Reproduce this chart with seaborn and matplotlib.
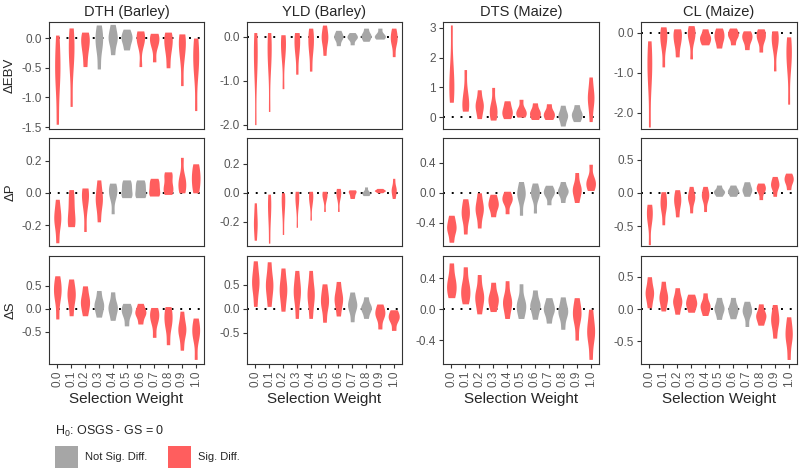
import matplotlib
matplotlib.use("Agg")
import matplotlib.pyplot as plt
from matplotlib.patches import Rectangle
import pandas as pd
import seaborn as sns

weights = ["0.0", "0.1", "0.2", "0.3", "0.4", "0.5", "0.6", "0.7", "0.8", "0.9", "1.0"]
traits = ["DTH (Barley)", "YLD (Barley)", "DTS (Maize)", "CL (Maize)"]
responses = ["ΔEBV", "ΔP", "ΔS"]

# significance per selection weight (1 = Sig. Diff., 0 = Not Sig. Diff.)
dth_ebv_sig = [1, 1, 1, 0, 0, 0, 1, 1, 1, 1, 1]
yld_ebv_sig = [1, 1, 1, 1, 1, 1, 0, 0, 0, 0, 1]
dts_ebv_sig = [1, 1, 1, 1, 1, 1, 1, 1, 0, 0, 1]
cl_ebv_sig = [1, 1, 1, 1, 1, 1, 1, 1, 1, 1, 1]
dth_p_sig = [1, 1, 1, 1, 0, 0, 0, 1, 1, 1, 1]
yld_p_sig = [1, 1, 1, 1, 1, 1, 1, 1, 0, 1, 1]
dts_p_sig = [1, 1, 1, 1, 1, 0, 0, 0, 0, 1, 1]
cl_p_sig = [1, 1, 1, 1, 1, 0, 0, 0, 1, 1, 1]
dth_s_sig = [1, 1, 1, 0, 0, 0, 1, 1, 1, 1, 1]
yld_s_sig = [1, 1, 1, 1, 1, 1, 1, 0, 0, 1, 1]
dts_s_sig = [1, 1, 1, 1, 1, 0, 0, 0, 0, 1, 1]
cl_s_sig = [1, 1, 1, 1, 1, 0, 0, 0, 1, 1, 1]

# replicate values per selection weight
dth_ebv = [
    [-1.45, -0.8, -0.55, -0.3, 0.05], [-1.15, -0.5, -0.25, -0.05, 0.17],
    [-0.48, -0.25, -0.1, 0.0, 0.1], [-0.52, -0.2, -0.05, 0.05, 0.22],
    [-0.28, -0.08, 0.0, 0.08, 0.23], [-0.2, -0.08, 0.0, 0.05, 0.15],
    [-0.48, -0.12, -0.02, 0.05, 0.12], [-0.4, -0.15, -0.05, 0.02, 0.08],
    [-0.5, -0.25, -0.1, 0.0, 0.1], [-0.8, -0.35, -0.15, -0.02, 0.07],
    [-1.22, -0.6, -0.4, -0.2, 0.0]]
yld_ebv = [
    [-2.0, -0.9, -0.5, -0.2, 0.1], [-1.7, -0.7, -0.4, -0.1, 0.1],
    [-1.18, -0.5, -0.25, -0.05, 0.05], [-0.85, -0.4, -0.2, -0.02, 0.1],
    [-0.78, -0.35, -0.15, 0.02, 0.2], [-0.42, -0.15, -0.02, 0.08, 0.27],
    [-0.2, -0.05, 0.0, 0.05, 0.15], [-0.18, -0.05, 0.0, 0.02, 0.1],
    [-0.1, -0.02, 0.03, 0.08, 0.2], [-0.05, 0.0, 0.02, 0.08, 0.2],
    [-0.45, -0.15, -0.05, 0.05, 0.2]]
dts_ebv = [
    [0.5, 0.9, 1.2, 1.8, 3.1], [0.2, 0.35, 0.55, 0.9, 1.6],
    [-0.05, 0.25, 0.4, 0.55, 0.92], [-0.1, 0.1, 0.25, 0.45, 1.0],
    [-0.05, 0.1, 0.2, 0.35, 0.55], [0.0, 0.1, 0.18, 0.3, 0.6],
    [-0.08, 0.05, 0.15, 0.25, 0.48], [-0.08, 0.03, 0.12, 0.22, 0.45],
    [-0.3, -0.05, 0.05, 0.15, 0.4], [-0.15, 0.0, 0.1, 0.2, 0.42],
    [-0.15, 0.4, 0.65, 0.85, 1.35]]
cl_ebv = [
    [-2.35, -1.3, -0.9, -0.6, -0.2], [-0.85, -0.35, -0.15, 0.0, 0.15],
    [-0.6, -0.3, -0.15, 0.0, 0.1], [-0.65, -0.2, -0.05, 0.05, 0.18],
    [-0.3, -0.2, -0.12, -0.05, 0.1], [-0.38, -0.2, -0.1, 0.0, 0.12],
    [-0.3, -0.12, -0.05, 0.02, 0.12], [-0.42, -0.22, -0.12, -0.05, 0.05],
    [-0.48, -0.2, -0.1, 0.0, 0.1], [-0.95, -0.4, -0.2, -0.05, 0.05],
    [-1.78, -0.9, -0.6, -0.35, -0.1]]
dth_p = [
    [-0.31, -0.2, -0.16, -0.12, -0.04], [-0.21, -0.18, -0.12, -0.05, 0.02],
    [-0.24, -0.1, -0.03, 0.0, 0.03], [-0.18, -0.08, -0.04, 0.0, 0.08],
    [-0.13, -0.03, 0.0, 0.03, 0.06], [-0.03, -0.01, 0.02, 0.05, 0.08],
    [-0.03, -0.01, 0.02, 0.05, 0.08], [-0.02, 0.0, 0.03, 0.06, 0.09],
    [-0.01, 0.02, 0.05, 0.1, 0.13], [0.0, 0.03, 0.07, 0.1, 0.22],
    [0.0, 0.05, 0.09, 0.13, 0.18]]
yld_p = [
    [-0.33, -0.25, -0.21, -0.15, -0.07], [-0.35, -0.2, -0.12, -0.06, -0.01],
    [-0.29, -0.15, -0.08, -0.03, 0.0], [-0.24, -0.1, -0.05, -0.01, 0.01],
    [-0.19, -0.08, -0.04, -0.01, 0.01], [-0.13, -0.05, -0.02, 0.0, 0.01],
    [-0.13, -0.04, -0.01, 0.01, 0.03], [-0.04, -0.02, 0.0, 0.01, 0.02],
    [-0.02, -0.01, 0.0, 0.01, 0.04], [0.0, 0.01, 0.015, 0.02, 0.03],
    [-0.04, 0.0, 0.02, 0.04, 0.1]]
dts_p = [
    [-0.66, -0.52, -0.47, -0.4, -0.3], [-0.55, -0.35, -0.28, -0.2, -0.08],
    [-0.47, -0.28, -0.22, -0.15, 0.0], [-0.32, -0.2, -0.16, -0.1, -0.02],
    [-0.28, -0.13, -0.09, -0.05, 0.02], [-0.3, -0.08, -0.02, 0.03, 0.15],
    [-0.27, -0.06, -0.01, 0.03, 0.13], [-0.16, -0.03, 0.0, 0.04, 0.1],
    [-0.13, -0.01, 0.02, 0.05, 0.15], [-0.13, 0.0, 0.04, 0.1, 0.27],
    [0.03, 0.1, 0.14, 0.2, 0.38]]
cl_p = [
    [-0.78, -0.45, -0.35, -0.25, -0.17], [-0.48, -0.25, -0.18, -0.08, 0.02],
    [-0.36, -0.2, -0.12, -0.05, 0.05], [-0.3, -0.12, -0.07, -0.02, 0.1],
    [-0.28, -0.1, -0.04, 0.0, 0.1], [-0.05, 0.0, 0.02, 0.05, 0.12],
    [-0.05, 0.0, 0.03, 0.06, 0.12], [-0.05, 0.02, 0.05, 0.1, 0.17],
    [-0.1, 0.02, 0.06, 0.1, 0.15], [-0.05, 0.08, 0.12, 0.17, 0.25],
    [0.05, 0.15, 0.2, 0.24, 0.3]]
dth_s = [
    [-0.22, 0.2, 0.38, 0.5, 0.72], [-0.15, 0.15, 0.3, 0.42, 0.65],
    [-0.15, 0.05, 0.15, 0.28, 0.5], [-0.18, 0.0, 0.08, 0.18, 0.4],
    [-0.25, -0.05, 0.03, 0.12, 0.37], [-0.37, -0.15, -0.05, 0.02, 0.12],
    [-0.33, -0.15, -0.08, -0.02, 0.12], [-0.62, -0.3, -0.18, -0.08, 0.03],
    [-0.78, -0.4, -0.25, -0.1, 0.05], [-0.9, -0.55, -0.45, -0.35, -0.05],
    [-1.1, -0.65, -0.5, -0.4, -0.2]]
yld_s = [
    [0.05, 0.4, 0.55, 0.7, 1.0], [0.05, 0.35, 0.5, 0.65, 0.98],
    [-0.05, 0.25, 0.4, 0.55, 0.85], [-0.2, 0.2, 0.35, 0.5, 0.8],
    [-0.2, 0.15, 0.3, 0.45, 0.8], [-0.28, 0.05, 0.15, 0.3, 0.52],
    [-0.15, 0.1, 0.2, 0.32, 0.57], [-0.27, 0.0, 0.07, 0.15, 0.35],
    [-0.2, -0.03, 0.02, 0.07, 0.25], [-0.42, -0.18, -0.1, -0.03, 0.1],
    [-0.45, -0.25, -0.18, -0.12, -0.02]]
dts_s = [
    [0.15, 0.25, 0.32, 0.42, 0.6], [0.07, 0.18, 0.25, 0.35, 0.55],
    [-0.06, 0.1, 0.16, 0.24, 0.45], [-0.03, 0.08, 0.13, 0.2, 0.35],
    [-0.12, 0.04, 0.09, 0.16, 0.37], [-0.12, 0.0, 0.05, 0.12, 0.33],
    [-0.13, 0.0, 0.05, 0.1, 0.25], [-0.18, -0.05, 0.0, 0.05, 0.15],
    [-0.26, -0.08, -0.03, 0.02, 0.16], [-0.4, -0.15, -0.06, 0.0, 0.15],
    [-0.65, -0.38, -0.3, -0.2, 0.0]]
cl_s = [
    [0.02, 0.18, 0.25, 0.33, 0.5], [-0.03, 0.12, 0.18, 0.26, 0.43],
    [-0.08, 0.06, 0.12, 0.18, 0.33], [-0.05, 0.04, 0.09, 0.15, 0.23],
    [-0.1, 0.0, 0.05, 0.1, 0.25], [-0.16, -0.04, 0.01, 0.06, 0.18],
    [-0.15, -0.05, 0.0, 0.05, 0.18], [-0.27, -0.08, -0.04, 0.02, 0.12],
    [-0.25, -0.15, -0.1, -0.05, 0.08], [-0.45, -0.25, -0.17, -0.08, 0.07],
    [-0.78, -0.5, -0.4, -0.3, -0.12]]

panel_values = [[dth_ebv, yld_ebv, dts_ebv, cl_ebv],
                [dth_p, yld_p, dts_p, cl_p],
                [dth_s, yld_s, dts_s, cl_s]]
panel_sig = [[dth_ebv_sig, yld_ebv_sig, dts_ebv_sig, cl_ebv_sig],
             [dth_p_sig, yld_p_sig, dts_p_sig, cl_p_sig],
             [dth_s_sig, yld_s_sig, dts_s_sig, cl_s_sig]]

# axis limits / ticks per panel
ylims = [[(-1.53, 0.27), (-2.1, 0.34), (-0.4, 3.2), (-2.4, 0.27)],
         [(-0.33, 0.34), (-0.37, 0.38), (-0.71, 0.73), (-0.8, 0.83)],
         [(-1.2, 1.15), (-1.15, 1.1), (-0.71, 0.69), (-0.85, 0.82)]]
yticks = [[[-1.5, -1.0, -0.5, 0.0], [-2.0, -1.0, 0.0], [0, 1, 2, 3], [-2.0, -1.0, 0.0]],
          [[-0.2, 0.0, 0.2], [-0.2, 0.0, 0.2], [-0.4, 0.0, 0.4], [-0.5, 0.0, 0.5]],
          [[-0.5, 0.0, 0.5], [-0.5, 0.0, 0.5], [-0.4, 0.0, 0.4], [-0.5, 0.0, 0.5]]]

sig_names = ["Not Sig. Diff.", "Sig. Diff."]
colors = ["#A6A6A6", "#FF5E5E"]

sns.set_style("white")
plt.rcParams["font.family"] = ["Liberation Sans", "DejaVu Sans"]
plt.rcParams["axes.unicode_minus"] = False
plt.rcParams["mathtext.fontset"] = "custom"
plt.rcParams["mathtext.rm"] = "Liberation Sans"

W, H = 799, 470
fig = plt.figure(figsize=(W / 100, H / 100), dpi=100)

col_x = [(49, 204), (247, 402), (443, 599), (641, 797)]
row_y = [(22, 129), (138, 246), (256, 364)]
tick_col = "#555555"
frame_col = "#333333"

for r in range(3):
    for c in range(4):
        x0, x1 = col_x[c]
        y0, y1 = row_y[r]
        ax = fig.add_axes([x0 / W, 1 - y1 / H, (x1 - x0) / W, (y1 - y0) / H])
        ax.axhline(0, color="black", linestyle=(0, (1, 3.5)), linewidth=1.4, zorder=0.5)

        vals_list = panel_values[r][c]
        spreads = [max(v) - min(v) for v in vals_list]
        smin = min(spreads)
        # long-tailed violins get drawn thinner, like area scaling in the original
        for w, vals, s, sp in zip(weights, vals_list, panel_sig[r][c], spreads):
            df = pd.DataFrame({"weight": [w] * len(vals), "value": vals})
            sns.violinplot(data=df, x="weight", y="value", order=weights,
                           color=colors[s], saturation=1, cut=0, inner=None,
                           bw_adjust=0.75, density_norm="width",
                           width=0.8 * (smin / sp) ** 0.5, linewidth=0, ax=ax)

        ax.set_xlim(-0.6, 10.6)
        ax.set_ylim(*ylims[r][c])
        ticks = yticks[r][c]
        ax.set_yticks(ticks)
        if c == 2 and r == 0:
            ax.set_yticklabels([f"{t:d}" for t in ticks])
        else:
            ax.set_yticklabels([f"{t:.1f}" for t in ticks])
        ax.tick_params(axis="y", length=3, width=0.8, color=frame_col,
                       labelsize=8.5, labelcolor=tick_col, pad=2, left=True)

        if r == 2:
            ax.set_xticks(range(len(weights)))
            ax.set_xticklabels(weights, rotation=90)
            ax.tick_params(axis="x", length=3, width=0.8, color=frame_col,
                           labelsize=8.5, labelcolor=tick_col, pad=2, bottom=True)
            ax.set_xlabel("Selection Weight", fontsize=11, labelpad=3)
        else:
            ax.set_xticks([])
            ax.set_xlabel("")

        if c == 0:
            ax.set_ylabel(responses[r], fontsize=9.5, labelpad=4)
        else:
            ax.set_ylabel("")
        if r == 0:
            ax.set_title(traits[c], fontsize=10.5, pad=4)

        for spn in ax.spines.values():
            spn.set_visible(True)
            spn.set_color(frame_col)
            spn.set_linewidth(0.8)

# legend: H0 title and two colour keys
fig.text(55 / W, 1 - 431 / H, r"H$_\mathregular{0}$: OSGS - GS = 0", fontsize=9,
         ha="left", va="center")
key_x = [55, 168]
for name, col, kx in zip(sig_names, colors, key_x):
    fig.add_artist(Rectangle((kx / W, 1 - 468 / H), 23 / W, 22 / H,
                             transform=fig.transFigure, facecolor=col, edgecolor="none"))
    fig.text((kx + 30) / W, 1 - 457 / H, name, fontsize=8, ha="left", va="center")

fig.savefig("out.png", dpi=100)
